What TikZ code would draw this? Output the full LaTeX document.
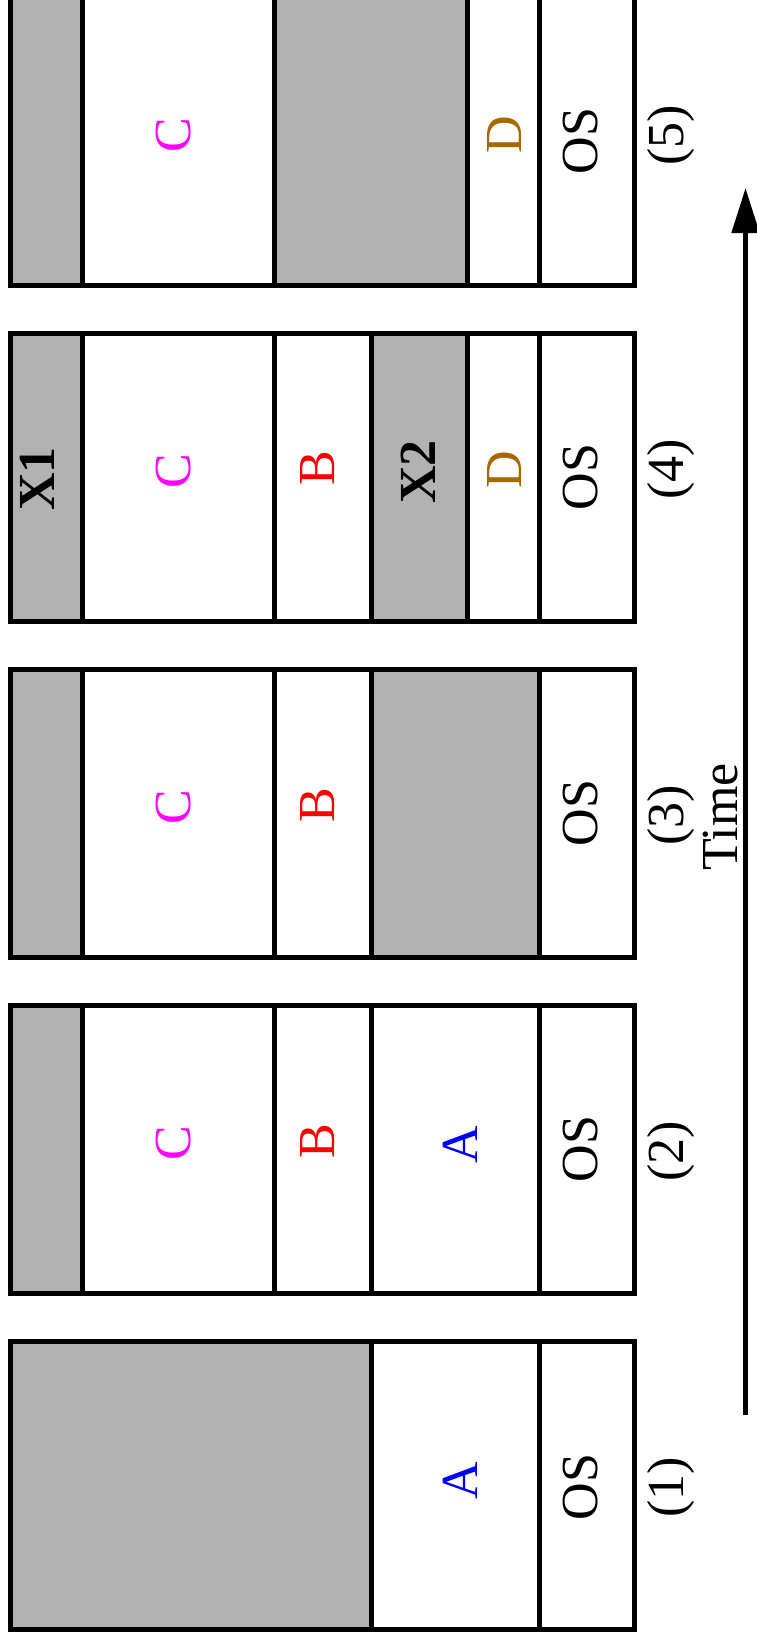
\documentclass[tikz,border=0pt]{standalone}
\usepackage{fontspec}
\setmainfont{Liberation Serif}
\usetikzlibrary{arrows.meta}
\definecolor{memgray}{gray}{0.7}
\definecolor{procA}{RGB}{0,0,255}
\definecolor{procB}{RGB}{255,0,0}
\definecolor{procC}{RGB}{255,0,255}
\definecolor{procD}{RGB}{168,104,0}
\tikzset{
  seg/.style={draw=black, line width=5pt, fill=white},
  hole/.style={draw=black, line width=5pt, fill=memgray},
  lbl/.style={rotate=90, font=\fontsize{52}{58}\selectfont, inner sep=0pt},
  bl/.style={lbl, font=\fontsize{52}{58}\selectfont\bfseries},
  timearrow/.style={line width=5pt, -{Triangle[length=45pt,width=27pt]}},
}
\newcommand\memseg[4]{\draw[#4] (#2,#1) rectangle (#3,#1+288);}
\begin{document}
\begin{tikzpicture}[x=1pt,y=-1pt]
\useasboundingbox (0,0) rectangle (756,1643);
% ---- snapshot (1): top 1341
\memseg{1341}{10.5}{371}{hole}
\memseg{1341}{371}{539}{seg}
\memseg{1341}{539}{634}{seg}
\node[lbl, text=procA] (a1) at (460,1481) {A};
\node[lbl] (os1) at (581,1487) {OS};
\node[lbl] (n1) at (671,1487) {(1)};
% ---- snapshot (2): top 1005
\memseg{1005}{10.5}{82}{hole}
\memseg{1005}{82}{274}{seg}
\memseg{1005}{274}{371}{seg}
\memseg{1005}{371}{539}{seg}
\memseg{1005}{539}{634}{seg}
\node[lbl, text=procC] (c2) at (174,1143) {C};
\node[lbl, text=procB] (b2) at (318,1141) {B};
\node[lbl, text=procA] (a2) at (460,1145) {A};
\node[lbl] (os2) at (581,1149) {OS};
\node[lbl] (n2) at (671,1151) {(2)};
% ---- snapshot (3): top 669
\memseg{669}{10.5}{82}{hole}
\memseg{669}{82}{274}{seg}
\memseg{669}{274}{371}{seg}
\memseg{669}{371}{539}{hole}
\memseg{669}{539}{634}{seg}
\node[lbl, text=procC] (c3) at (174,807) {C};
\node[lbl, text=procB] (b3) at (318,805) {B};
\node[lbl] (os3) at (581,813) {OS};
\node[lbl] (n3) at (671,815) {(3)};
\node[lbl] (time) at (721,817) {Time};
% ---- snapshot (4): top 333
\memseg{333}{10.5}{82}{hole}
\memseg{333}{82}{274}{seg}
\memseg{333}{274}{371}{seg}
\memseg{333}{371}{467}{hole}
\memseg{333}{467}{539}{seg}
\memseg{333}{539}{634}{seg}
\node[bl] (x1) at (37,479) {X1};
\node[lbl, text=procC] (c4) at (174,471) {C};
\node[lbl, text=procB] (b4) at (318,468) {B};
\node[bl] (x2) at (418,472) {X2};
\node[lbl, text=procD] (d4) at (505,470) {D};
\node[lbl] (os4) at (581,477) {OS};
\node[lbl] (n4) at (671,469) {(4)};
% ---- snapshot (5): top -3
\memseg{-3}{10.5}{82}{hole}
\memseg{-3}{82}{274}{seg}
\memseg{-3}{274}{467}{hole}
\memseg{-3}{467}{539}{seg}
\memseg{-3}{539}{634}{seg}
\node[lbl, text=procC] (c5) at (174,135) {C};
\node[lbl, text=procD] (d5) at (505,135) {D};
\node[lbl] (os5) at (581,141) {OS};
\node[lbl] (n5) at (671,135) {(5)};
% ---- time arrow
\coordinate (tstart) at (745.5,1415);
\coordinate (tend) at (745.5,188);
\draw[timearrow] (tstart) -- (tend);
\end{tikzpicture}
\end{document}
